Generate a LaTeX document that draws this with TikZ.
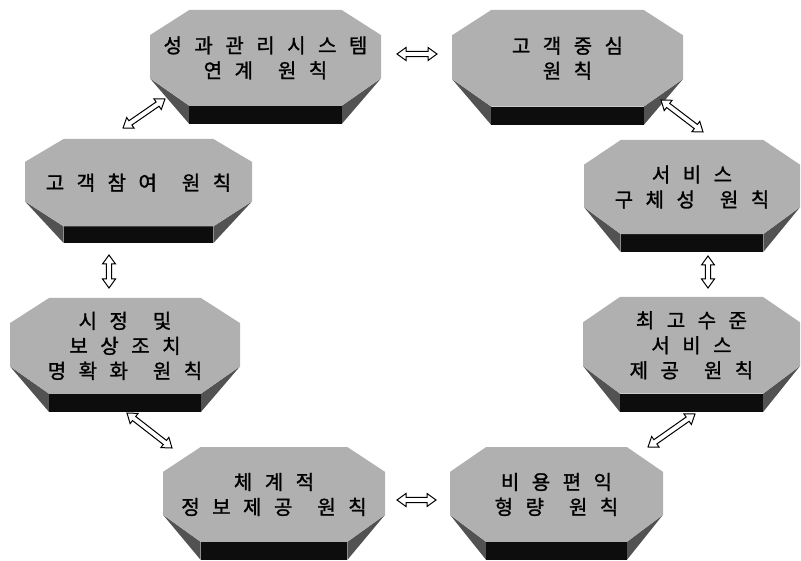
\documentclass[tikz,border=0pt]{standalone}
\usepackage{fontspec}
\newfontfamily\krfont[FakeBold=1.3]{Noto Sans CJK KR}
\usetikzlibrary{calc}

\definecolor{stone}{gray}{0.69}
\definecolor{stoneside}{gray}{0.32}
\definecolor{stonebase}{gray}{0.05}

% spacing between syllables and between words
\newcommand\kgap{\hspace{12.5pt}}
\newcommand\kword{\hspace{25pt}}

% an octagonal stone slab: name, left, right, top, bottom, caption
\newcommand\slab[6]{%
  \pgfmathsetmacro\sxl{#2}%
  \pgfmathsetmacro\sxr{#3}%
  \pgfmathsetmacro\sin{0.17*(#3-#2)}%
  \pgfmathsetmacro\sxa{#2+\sin}%
  \pgfmathsetmacro\sxb{#3-\sin}%
  \pgfmathsetmacro\sht{#5-#4}%
  \pgfmathsetmacro\sya{#4}%
  \pgfmathsetmacro\syb{#4+0.22*\sht}%
  \pgfmathsetmacro\syc{#4+0.60*\sht}%
  \pgfmathsetmacro\syd{#4+0.84*\sht}%
  \pgfmathsetmacro\sye{#5}%
  \pgfmathsetmacro\sxm{(#2+#3)/2}%
  \pgfmathsetmacro\sym{#4+0.42*\sht}%
  \fill[slabside] (\sxl,\syc) -- (\sxa,\syd) -- (\sxa,\sye) -- cycle;
  \fill[slabside] (\sxr,\syc) -- (\sxb,\syd) -- (\sxb,\sye) -- cycle;
  \fill[slabbase] (\sxa,\syd) rectangle (\sxb,\sye);
  \fill[slabface] (\sxa,\sya) -- (\sxb,\sya) -- (\sxr,\syb) -- (\sxr,\syc)
     -- (\sxb,\syd) -- (\sxa,\syd) -- (\sxl,\syc) -- (\sxl,\syb) -- cycle;
  \node[slabtext] (#1) at (\sxm,\sym) {#6};
}

% hollow double-headed block arrow between two named coordinates
\newcommand\linkarrow[2]{%
  \pgfmathanglebetweenpoints{\pgfpointanchor{#1}{center}}{\pgfpointanchor{#2}{center}}%
  \let\arrang\pgfmathresult
  \pgfpointdiff{\pgfpointanchor{#1}{center}}{\pgfpointanchor{#2}{center}}%
  \pgfgetlastxy{\arrdx}{\arrdy}%
  \pgfmathveclen{\arrdx}{\arrdy}%
  \let\arrlen\pgfmathresult
  \pgfmathsetmacro\arrin{\arrlen-9}%
  \draw[linkstyle, shift={(#1)}, rotate=\arrang]
    (0pt,0pt) -- (9pt,6.5pt) -- (9pt,2.6pt) -- (\arrin pt,2.6pt) -- (\arrin pt,6.5pt)
    -- (\arrlen pt,0pt) -- (\arrin pt,-6.5pt) -- (\arrin pt,-2.6pt) -- (9pt,-2.6pt)
    -- (9pt,-6.5pt) -- cycle;
}

\tikzset{
  slabface/.style={fill=stone},
  slabside/.style={fill=stoneside},
  slabbase/.style={fill=stonebase},
  slabtext/.style={align=center, text=black,
    font=\krfont\fontsize{20pt}{25pt}\selectfont},
  linkstyle/.style={draw=black, fill=white, line width=1pt, line join=miter}
}

\begin{document}
\begin{tikzpicture}[x=1pt, y=-1pt]
  \fill[white] (0,0) rectangle (801,561);
  \useasboundingbox (0,0) rectangle (801,561);

  \slab{perf}{150}{381}{10}{124}{성\kgap 과\kgap 관\kgap 리\kgap 시\kgap 스\kgap 템\\연\kgap 계\kword 원\kgap 칙}
  \slab{cust}{452}{683}{10}{125}{고\kgap 객\kgap 중\kgap 심\\원\kgap 칙}
  \slab{spec}{584}{800}{140}{252}{서\kgap 비\kgap 스\\구\kgap 체\kgap 성\kword 원\kgap 칙}
  \slab{best}{583}{800}{297}{412}{최\kgap 고\kgap 수\kgap 준\\서\kgap 비\kgap 스\\제\kgap 공\kword 원\kgap 칙}
  \slab{cost}{450}{663}{447}{560}{비\kgap 용\kgap 편\kgap 익\\형\kgap 량\kword 원\kgap 칙}
  \slab{info}{163}{385}{447}{560}{체\kgap 계\kgap 적\\정\kgap 보\kgap 제\kgap 공\kword 원\kgap 칙}
  \slab{redr}{10}{240}{298}{412}{시\kgap 정\kword 및\\보\kgap 상\kgap 조\kgap 치\\명\kgap 확\kgap 화\kword 원\kgap 칙}
  \slab{part}{25}{252}{139}{243}{고\kgap 객\kgap 참\kgap 여\kword 원\kgap 칙}

  % arrow end points between neighbouring slabs
  \coordinate (pc1) at (397,54);  \coordinate (pc2) at (437,54);
  \coordinate (cs1) at (661,100); \coordinate (cs2) at (703,132);
  \coordinate (sb1) at (708,256); \coordinate (sb2) at (708,288);
  \coordinate (bc1) at (695,414); \coordinate (bc2) at (648,447);
  \coordinate (ci1) at (436,500); \coordinate (ci2) at (397,500);
  \coordinate (ir1) at (172,448); \coordinate (ir2) at (127,413);
  \coordinate (rp1) at (109,288); \coordinate (rp2) at (109,255);
  \coordinate (pp1) at (123,128); \coordinate (pp2) at (165,99);

  \linkarrow{pc1}{pc2}
  \linkarrow{cs1}{cs2}
  \linkarrow{sb1}{sb2}
  \linkarrow{bc1}{bc2}
  \linkarrow{ci1}{ci2}
  \linkarrow{ir1}{ir2}
  \linkarrow{rp1}{rp2}
  \linkarrow{pp1}{pp2}
\end{tikzpicture}
\end{document}
